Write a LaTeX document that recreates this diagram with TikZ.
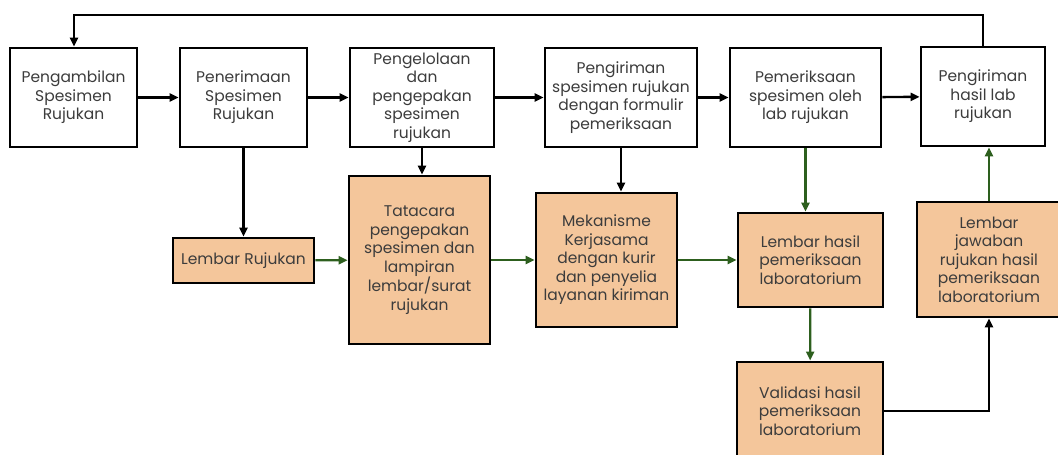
\documentclass[tikz,border=0pt]{standalone}
\usepackage{fontspec}
\setmainfont{Poppins}
\usetikzlibrary{arrows.meta}
\definecolor{peach}{RGB}{244,198,155}
\definecolor{arrowgreen}{RGB}{45,95,30}
\definecolor{txt}{RGB}{60,60,60}
\begin{document}
\begin{tikzpicture}[x=1pt,y=-1pt,
  box/.style={draw=black,line width=2.8pt,fill=white,align=center,inner sep=1pt,
    font=\fontsize{15.5}{18.5}\selectfont,text=txt},
  obox/.style={box,fill=peach},
  blk/.style={-{Triangle[length=9pt,width=8pt]},line width=2.4pt,black},
  grn/.style={-{Triangle[length=9pt,width=8pt]},line width=2.2pt,arrowgreen}]
\useasboundingbox (0,0) rectangle (1058,455);
% main process row
\node[box,minimum width=127pt,minimum height=99pt] (b1) at (73.5,97.5) {Pengambilan\\Spesimen\\Rujukan};
\node[box,minimum width=127pt,minimum height=99pt] (b2) at (243.5,97.5) {Penerimaan\\Spesimen\\Rujukan};
\node[box,minimum width=144pt,minimum height=99pt] (b3) at (422,97.5) {Pengelolaan\\dan\\pengepakan\\spesimen\\rujukan};
\node[box,minimum width=152pt,minimum height=99pt] (b4) at (621,97.5) {Pengiriman\\spesimen rujukan\\dengan formulir\\pemeriksaan};
\node[box,minimum width=151pt,minimum height=99pt] (b5) at (805.5,97.5) {Pemeriksaan\\spesimen oleh\\lab rujukan};
\node[box,minimum width=124pt,minimum height=99pt] (b6) at (983,96.5) {Pengiriman\\hasil lab\\rujukan};
% supporting documents and procedures
\node[obox,minimum width=141pt,minimum height=45pt] (lr) at (243.5,260.5) {Lembar Rujukan};
\node[obox,minimum width=141pt,minimum height=168pt] (tc) at (419.5,260) {Tatacara\\pengepakan\\spesimen dan\\lampiran\\lembar/surat\\rujukan};
\node[obox,minimum width=141pt,minimum height=134pt] (mk) at (606.5,260) {Mekanisme\\Kerjasama\\dengan kurir\\dan penyelia\\layanan kiriman};
\node[obox,minimum width=145pt,minimum height=94pt] (lh) at (810.5,260) {Lembar hasil\\pemeriksaan\\laboratorium};
\node[obox,minimum width=146pt,minimum height=98pt] (va) at (810,411) {Validasi hasil\\pemeriksaan\\laboratorium};
\node[obox,minimum width=144pt,minimum height=115pt] (lj) at (989,259.5) {Lembar\\jawaban\\rujukan hasil\\pemeriksaan\\laboratorium};
% feedback loop
\coordinate (t1) at (983,15);
\coordinate (t2) at (74,15);
\draw[blk] (b6.north) -- (t1) -- (t2) -- (b1.north -| t2);
% process flow
\draw[blk] (b1) -- (b2);
\draw[blk] (b2) -- (b3);
\draw[blk] (b3) -- (b4);
\draw[blk] (b4) -- (b5);
\draw[blk] (b5) -- (b6);
\draw[blk] (b2.south) -- (lr.north);
\draw[blk] (b3.south) -- (b3.south |- tc.north);
\draw[blk] (b4.south) -- (b4.south |- mk.north);
\draw[grn] (lr) -- (tc);
\draw[grn] (tc) -- (mk);
\draw[grn] (mk) -- (lh);
\draw[grn] (b5.south) -- (b5.south |- lh.north);
\draw[grn] (lh) -- (va);
\draw[grn] (lj.north) -- (lj.north |- b6.south);
\draw[blk] (va.east) -| (lj.south);
\end{tikzpicture}
\end{document}
